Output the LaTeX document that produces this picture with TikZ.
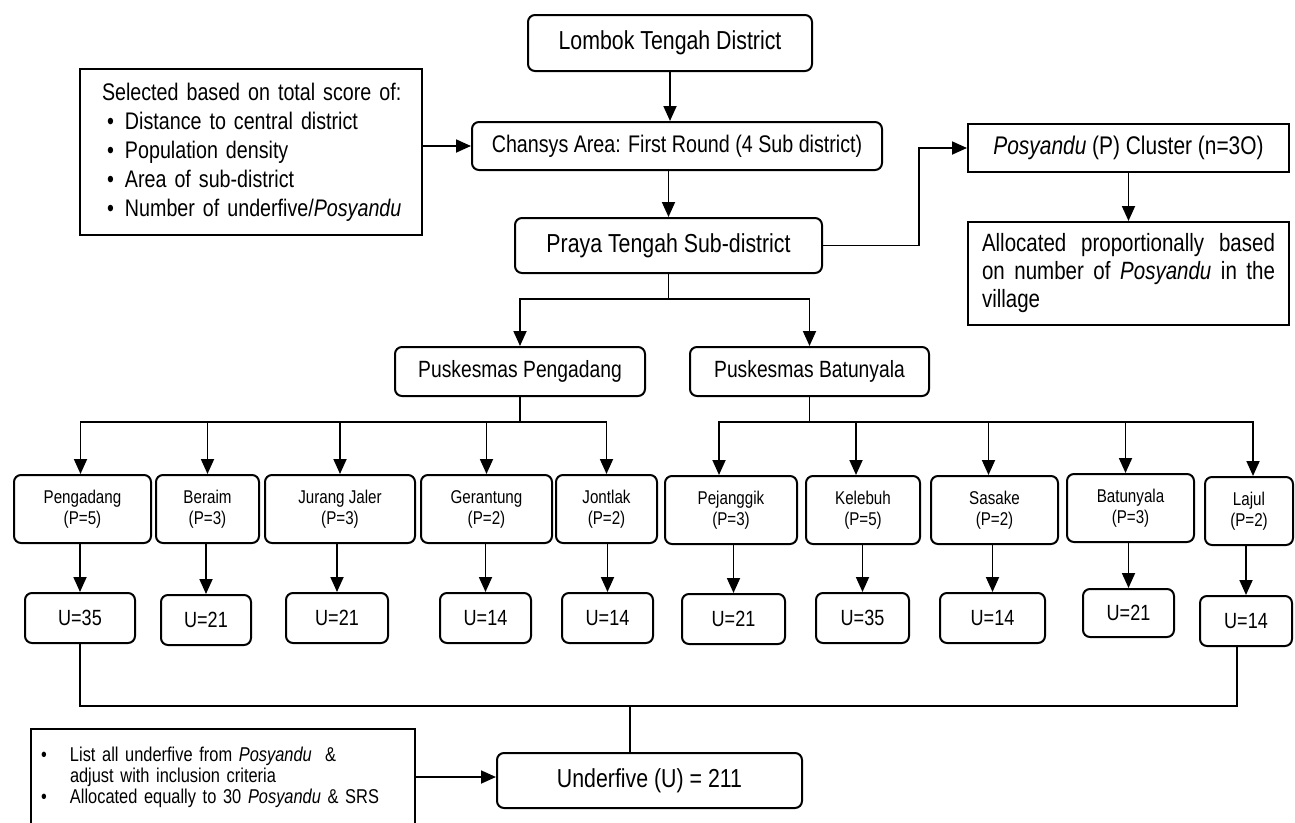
\documentclass[tikz,border=0pt]{standalone}
\usepackage{fontspec}
\setmainfont{Liberation Sans}[FakeStretch=0.82]
\usetikzlibrary{arrows.meta,calc}
\begin{document}
\begin{tikzpicture}[x=1pt,y=-1pt,
  rbox/.style={draw,line width=2pt,rounded corners=7pt,inner sep=0pt,align=center},
  sqbox/.style={draw,line width=2pt,inner sep=0pt},
  arr/.style={line width=1.8pt,-{Triangle[length=15pt,width=13pt]}},
  ln/.style={line width=1.8pt},
  vil/.style={rbox,minimum height=68pt,font=\fontsize{18.5}{21}\selectfont},
  ubox/.style={rbox,minimum height=50pt,font=\fontsize{22}{24}\selectfont},
  pusk/.style={rbox,minimum height=49pt,font=\fontsize{23.5}{26}\selectfont}
]
\useasboundingbox (0,0) rectangle (1295,822);

% top chain
\node[rbox,minimum width=284pt,minimum height=56pt,font=\fontsize{26}{28}\selectfont] (lombok) at (670,43) {Lombok Tengah District};
\node[rbox,minimum width=410pt,minimum height=48pt,font=\fontsize{24}{26}\selectfont] (chansys) at (677,146) {Chansys Area: First Round (4 Sub district)};
\node[rbox,minimum width=307pt,minimum height=55pt,font=\fontsize{26}{28}\selectfont] (praya) at (668.5,245.5) {Praya Tengah Sub-district};

\node[sqbox,minimum width=342pt,minimum height=166pt,text width=340pt,align=left,font=\fontsize{24}{29}\selectfont] (sel) at (251,152)
 {\hspace*{21pt}Selected based on total score of:\\
  \hspace*{26pt}\makebox[18pt][l]{\textbullet}Distance to central district\\
  \hspace*{26pt}\makebox[18pt][l]{\textbullet}Population density\\
  \hspace*{26pt}\makebox[18pt][l]{\textbullet}Area of sub-district\\
  \hspace*{26pt}\makebox[18pt][l]{\textbullet}Number of underfive/\textit{Posyandu}};

\node[sqbox,minimum width=321pt,minimum height=48pt,font=\fontsize{25.5}{28}\selectfont] (posy) at (1128.5,148) {\textit{Posyandu} (P) Cluster (n=3O)};
\node[sqbox,minimum width=321pt,minimum height=103pt,text width=293pt,align=justify,font=\fontsize{25}{28}\selectfont] (alloc) at (1128.5,273.5)
 {Allocated proportionally based\linebreak on number of \textit{Posyandu} in the\linebreak village};

\node[pusk,minimum width=250pt] (puskP) at (520,371.5) {Puskesmas Pengadang};
\node[pusk,minimum width=239pt] (puskB) at (809.5,371.5) {Puskesmas Batunyala};

% villages
\node[vil,minimum width=137pt] (v1) at (82.5,509) {Pengadang\\(P=5)};
\node[vil,minimum width=103pt] (v2) at (207.5,509) {Beraim\\(P=3)};
\node[vil,minimum width=150pt] (v3) at (340,509) {Jurang Jaler\\(P=3)};
\node[vil,minimum width=131pt] (v4) at (486.5,509) {Gerantung\\(P=2)};
\node[vil,minimum width=101pt] (v5) at (606.5,509) {Jontlak\\(P=2)};
\node[vil,minimum width=132pt] (v6) at (731,510) {Pejanggik\\(P=3)};
\node[vil,minimum width=114pt] (v7) at (863,510) {Kelebuh\\(P=5)};
\node[vil,minimum width=127pt] (v8) at (994.5,510) {Sasake\\(P=2)};
\node[vil,minimum width=127pt] (v9) at (1130.5,508) {Batunyala\\(P=3)};
\node[vil,minimum width=88pt] (v10) at (1249,511) {Lajul\\(P=2)};

% U boxes
\node[ubox,minimum width=110pt] (u1) at (80,618) {U=35};
\node[ubox,minimum width=90pt] (u2) at (206,620) {U=21};
\node[ubox,minimum width=102pt] (u3) at (337,618) {U=21};
\node[ubox,minimum width=91pt] (u4) at (485.5,618) {U=14};
\node[ubox,minimum width=91pt] (u5) at (607.5,618) {U=14};
\node[ubox,minimum width=103pt] (u6) at (733.5,619) {U=21};
\node[ubox,minimum width=93pt] (u7) at (862.5,618) {U=35};
\node[ubox,minimum width=105pt] (u8) at (992.5,618) {U=14};
\node[ubox,minimum width=91pt,minimum height=48pt] (u9) at (1128.5,613) {U=21};
\node[ubox,minimum width=92pt] (u10) at (1246,621) {U=14};

\node[rbox,minimum width=305pt,minimum height=55pt,font=\fontsize{26}{28}\selectfont] (under) at (649.5,780.5) {Underfive (U) = 211};
\node[sqbox,minimum width=384pt,minimum height=96pt,text width=364pt,align=left,font=\fontsize{20}{21}\selectfont] (note) at (223,777)
 {\makebox[29pt][l]{\textbullet}List all underfive from \textit{Posyandu}\ \ \&\\
  \hspace*{29pt}adjust with inclusion criteria\\
  \makebox[29pt][l]{\textbullet}Allocated equally to 30 \textit{Posyandu} \& SRS};

% connectors
\draw[arr] (lombok.south) -- (lombok.south |- chansys.north);
\draw[arr] (praya.north |- chansys.south) -- (praya.north);
\draw[arr] (sel.east |- chansys.west) -- (chansys.west);
\draw[arr] (praya.east) -- ++(96,0) |- (posy.west);
\draw[arr] (posy.south) -- (alloc.north);

\coordinate (b1) at (668.5,299);
\draw[ln] (praya.south) -- (b1);
\draw[arr] (b1) -| (puskP.north);
\draw[arr] (b1) -| (puskB.north);

\coordinate (b2) at (520,422);
\draw[ln] (puskP.south) -- (b2);
\draw[arr] (b2) -| ([xshift=-2pt]v1.north);
\draw[arr] (b2) -| (v2.north);
\draw[arr] (b2) -| (v3.north);
\draw[arr] (b2) -| (v4.north);
\draw[arr] (b2) -| (v5.north);

\coordinate (b3) at (809.5,422);
\draw[ln] (puskB.south) -- (b3);
\draw[arr] (b3) -| ([xshift=-12pt]v6.north);
\draw[arr] (b3) -| ([xshift=-7pt]v7.north);
\draw[arr] (b3) -| ([xshift=-6pt]v8.north);
\draw[arr] (b3) -| ([xshift=-5pt]v9.north);
\draw[arr] (b3) -| ([xshift=4pt]v10.north);

\foreach \i in {1,...,10}{
  \draw[arr] (u\i.north |- v\i.south) -- (u\i.north);
}

\coordinate (b4) at (630,706);
\draw[ln] (u1.south) |- (b4) -| ([xshift=-9pt]u10.south);
\draw[ln] (b4) -- (b4 |- under.north);
\draw[arr] (note.east) -- (note.east -| under.west);
\end{tikzpicture}
\end{document}
